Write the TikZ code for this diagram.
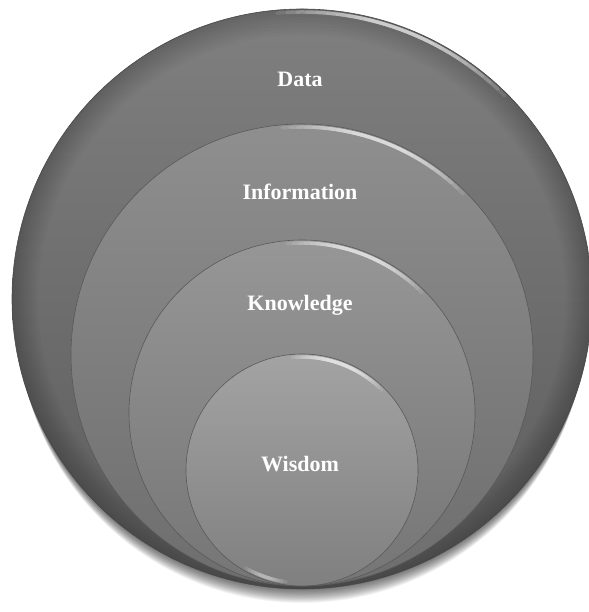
\documentclass[tikz,border=0pt]{standalone}
\usepackage{fontspec}
\setmainfont{Liberation Serif}

\definecolor{dataTop}{gray}{0.50}
\definecolor{dataBot}{gray}{0.36}
\definecolor{infoTop}{gray}{0.56}
\definecolor{infoBot}{gray}{0.43}
\definecolor{knowTop}{gray}{0.59}
\definecolor{knowBot}{gray}{0.46}
\definecolor{wisTop}{gray}{0.64}
\definecolor{wisBot}{gray}{0.50}

\tikzset{
  ring/.style={draw=black!65, line width=0.6pt},
  gloss/.style={white, line cap=round, line width=3.5pt, opacity=0.11},
  tag/.style={text=white, anchor=base, font=\bfseries\fontsize{22}{25}\selectfont},
}

% white highlight along the upper right edge of a circle
\newcommand\glossarc[3]{% center, radius, end angle
  \foreach \k in {0,...,9}
    \draw[gloss] (#1) ++(95-\k*2:#2-3) arc[start angle=95-\k*2, end angle=#3+\k*2, radius=#2-3];
}

\begin{document}
\begin{tikzpicture}[x=1pt,y=1pt]
    \useasboundingbox (0,0) rectangle (588,612);

    % Soft shadow below the outer circle
    \foreach \s in {1,...,20}
      \fill[black, opacity=0.035] (302,313-\s) circle (290-0.3*\s);

    % Draw the four circles
    \shade[ring, top color=dataTop, bottom color=dataBot] (302,313) circle (290);
    \foreach \w in {2,5,...,26}
      \draw[black, opacity=0.025, line width=\w] (302,313) circle (290-\w/2);
    \glossarc{302,313}{290}{45}

    \shade[ring, top color=infoTop, bottom color=infoBot] (302,257) circle (231);
    \glossarc{302,257}{231}{45}

    \shade[ring, top color=knowTop, bottom color=knowBot] (302,199) circle (173);
    \glossarc{302,199}{173}{45}

    \shade[ring, top color=wisTop, bottom color=wisBot] (302,142) circle (116);
    \glossarc{302,142}{116}{45}
    % small highlight at the bottom of the inner circle
    \foreach \k in {0,...,4}
      \draw[gloss] (302,142) ++(240+\k*2:113) arc[start angle=240+\k*2, end angle=262-\k*2, radius=113];

    % Labels for the circles
    \node[tag] (data) at (300,525) {Data};
    \node[tag] (info) at (300,412) {Information};
    \node[tag] (know) at (300,301) {Knowledge};
    \node[tag] (wisdom) at (300,140) {Wisdom};
\end{tikzpicture}
\end{document}
